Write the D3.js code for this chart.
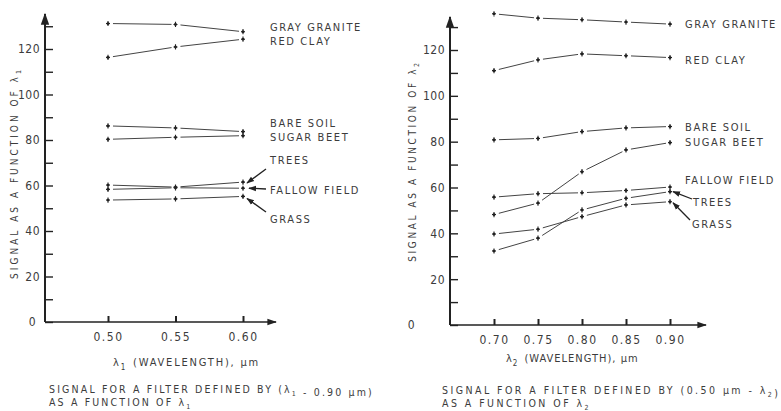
<!doctype html>
<html>
<head>
<meta charset="utf-8">
<title>Signal vs wavelength</title>
<style>
  body { margin: 0; background: #fff; }
  svg text { font-family: "Liberation Sans Narrow", "DejaVu Sans Condensed", "Liberation Sans", sans-serif; fill: #3c3c3c; }
</style>
</head>
<body>
<div id="here"></div>
<script src="https://d3js.org/d3.v7.min.js"></script>
<script>
// filter 1: lambda1 varies, lambda2 = 0.90 um
var wave1 = [0.50, 0.55, 0.60];
var grayGranite1 = [131.2, 130.8, 127.6];
var redClay1     = [116.3, 120.9, 124.3];
var bareSoil1    = [86.2, 85.3, 83.7];
var sugarBeet1   = [80.3, 81.2, 81.9];
var trees1       = [60.2, 59.3, 61.5];
var fallow1      = [58.3, 59.0, 58.8];
var grass1       = [53.6, 54.1, 55.2];

// filter 2: lambda1 = 0.50 um, lambda2 varies
var wave2 = [0.70, 0.75, 0.80, 0.85, 0.90];
var grayGranite2 = [135.8, 133.9, 133.2, 132.2, 131.3];
var redClay2     = [111.0, 115.7, 118.3, 117.5, 116.7];
var bareSoil2    = [80.8, 81.4, 84.4, 86.0, 86.6];
var sugarBeet2   = [48.2, 53.2, 66.9, 76.4, 79.6];
var fallow2      = [55.8, 57.3, 57.7, 58.7, 60.2];
var trees2       = [32.3, 37.9, 50.2, 55.3, 58.2];
var grass2       = [39.7, 41.8, 47.3, 52.4, 53.8];

var yTicks = [0, 10, 20, 30, 40, 50, 60, 70, 80, 90, 100, 110, 120, 130];
var yLabels = [0, 20, 40, 60, 80, 100, 120];
var x1Labels = ["0.50", "0.55", "0.60"];
var x2Labels = ["0.70", "0.75", "0.80", "0.85", "0.90"];

var w = 781, h = 411;
var svg = d3.select("#here").append("svg").attr("width", w).attr("height", h);

svg.append("defs").append("marker")
  .attr("id", "ah").attr("viewBox", "0 0 10 10").attr("refX", 9).attr("refY", 5)
  .attr("markerWidth", 6).attr("markerHeight", 6).attr("orient", "auto-start-reverse")
  .append("path").attr("d", "M0,1.5L10,5L0,8.5z").attr("fill", "#222");

function panel(cfg) {
  var x = d3.scaleLinear().domain([cfg.wave[0], cfg.wave[cfg.wave.length - 1]]).range(cfg.xr);
  var y = d3.scaleLinear().domain([0, 120]).range(cfg.yr);
  var g = svg.append("g");
  var y0 = y(0);

  // y axis
  var ya = d3.axisLeft(y).tickValues(yTicks).tickSizeInner(-8).tickSizeOuter(0).tickPadding(5)
    .tickFormat(function(d) { return yLabels.indexOf(d) >= 0 ? d : ""; });
  var yg = g.append("g").attr("transform", "translate(" + cfg.ax + ",0)").call(ya);
  yg.select(".domain").remove();
  yg.selectAll(".tick line").attr("stroke", "#222").attr("stroke-width", 1.4);
  yg.selectAll(".tick text").attr("font-size", 12).attr("letter-spacing", 0.5)
    .attr("dx", function(d) { return d === 0 ? cfg.zeroDx : 0; });
  g.append("line").attr("x1", cfg.ax).attr("x2", cfg.ax).attr("y1", y0).attr("y2", cfg.ytop)
    .attr("stroke", "#222").attr("stroke-width", 2).attr("marker-end", "url(#ah)");

  // x axis
  var xa = d3.axisBottom(x).tickValues(cfg.wave).tickSizeInner(-6).tickSizeOuter(0).tickPadding(10)
    .tickFormat(function(d, i) { return cfg.xLabels[i]; });
  var xg = g.append("g").attr("transform", "translate(0," + y0 + ")").call(xa);
  xg.select(".domain").remove();
  xg.selectAll(".tick line").attr("stroke", "#222").attr("stroke-width", 2);
  xg.selectAll(".tick text").attr("font-size", 12).attr("letter-spacing", 1.5);
  g.append("line").attr("x1", cfg.ax).attr("x2", cfg.xend).attr("y1", y0).attr("y2", y0)
    .attr("stroke", "#222").attr("stroke-width", 1.6).attr("marker-end", "url(#ah)");

  // series: segments with small gaps at the markers, like the original
  cfg.series.forEach(function(s) {
    var pts = s.map(function(v, i) { return [x(cfg.wave[i]), y(v)]; });
    for (var i = 0; i < pts.length - 1; i++) {
      var a = pts[i], b = pts[i + 1];
      var dx = b[0] - a[0], dy = b[1] - a[1], L = Math.sqrt(dx * dx + dy * dy);
      g.append("line")
        .attr("x1", a[0] + dx / L * 5).attr("y1", a[1] + dy / L * 5)
        .attr("x2", b[0] - dx / L * 4).attr("y2", b[1] - dy / L * 4)
        .attr("stroke", "#444").attr("stroke-width", 1);
    }
    g.selectAll(null).data(pts).enter().append("path")
      .attr("transform", function(p) { return "translate(" + p[0] + "," + p[1] + ")"; })
      .attr("d", "M-2,0H2M0,-2.6V2.6M-1.2,0L0,-1.3L1.2,0L0,1.3z")
      .attr("fill", "#222").attr("stroke", "#222").attr("stroke-width", 1.1);
  });

  // series labels
  cfg.labels.forEach(function(l) {
    g.append("text").attr("x", l[1]).attr("y", l[2]).attr("dy", "0.35em")
      .attr("font-size", 11).attr("letter-spacing", 1.6).text(l[0]);
  });

  // arrows from labels to the last points
  var last = cfg.wave.length - 1;
  cfg.arrows.forEach(function(a) {
    var tx = x(cfg.wave[last]) + a.tip[0], ty = y(cfg.series[a.s][last]) + a.tip[1];
    g.append("line").attr("x1", a.from[0]).attr("y1", a.from[1]).attr("x2", tx).attr("y2", ty)
      .attr("stroke", "#222").attr("stroke-width", 1.3).attr("marker-end", "url(#ah)");
  });

  // y axis title
  var yt = g.append("text").attr("transform", "translate(" + cfg.ytx + "," + cfg.yty + ") rotate(-90)")
    .attr("text-anchor", "middle").attr("dy", "0.35em").attr("font-size", 10).attr("letter-spacing", cfg.ytls);
  yt.append("tspan").text("SIGNAL AS A FUNCTION OF λ");
  yt.append("tspan").attr("font-size", 7).attr("dy", 3).text(cfg.sub);

  // x axis title
  var xt = g.append("text").attr("x", cfg.xtx).attr("y", cfg.xty).attr("dy", "0.35em")
    .attr("font-size", 11).attr("letter-spacing", cfg.xtls);
  xt.append("tspan").text("λ");
  xt.append("tspan").attr("font-size", 8).attr("dy", 4).text(cfg.sub);
  xt.append("tspan").attr("dy", -4).attr("dx", 6).text("(WAVELENGTH), μm");

  // caption
  var c1 = g.append("text").attr("x", cfg.capx).attr("y", cfg.capy).attr("dy", "0.35em")
    .attr("font-size", 10.5).attr("letter-spacing", cfg.capls);
  cfg.cap1.forEach(function(p) {
    if (p === "SUB") c1.append("tspan").attr("font-size", 7).attr("dy", 3).text(cfg.sub);
    else if (p === "UP") c1.append("tspan").attr("dy", -3).text("");
    else c1.append("tspan").text(p);
  });
  var c2 = g.append("text").attr("x", cfg.capx).attr("y", cfg.capy + 13).attr("dy", "0.35em")
    .attr("font-size", 10.5).attr("letter-spacing", cfg.capls);
  c2.append("tspan").text("AS A FUNCTION OF λ");
  c2.append("tspan").attr("font-size", 7).attr("dy", 3).text(cfg.sub);
}

panel({
  wave: wave1, xLabels: x1Labels, xr: [108, 243], yr: [322, 49], ax: 45, ytop: 14, xend: 276,
  zeroDx: -4, sub: "1",
  series: [grayGranite1, redClay1, bareSoil1, sugarBeet1, trees1, fallow1, grass1],
  labels: [["GRAY GRANITE", 270, 27], ["RED CLAY", 270, 41], ["BARE SOIL", 270, 123], ["SUGAR BEET", 270, 137],
           ["TREES", 270, 160], ["FALLOW FIELD", 270, 190], ["GRASS", 270, 219]],
  arrows: [{s: 4, from: [266, 169], tip: [4, 1]}, {s: 5, from: [266, 189], tip: [6, 0]}, {s: 6, from: [266, 212], tip: [4, 2]}],
  ytx: 14, yty: 173, ytls: 3.0, xtx: 113, xty: 362, xtls: 1.8,
  capx: 49, capy: 389, capls: 2.15, cap1: ["SIGNAL FOR A FILTER DEFINED BY (λ", "SUB", "UP", " - 0.90 μm)"]
});

panel({
  wave: wave2, xLabels: x2Labels, xr: [494, 670], yr: [325, 50], ax: 450, ytop: 17, xend: 706,
  zeroDx: -30, sub: "2",
  series: [grayGranite2, redClay2, bareSoil2, sugarBeet2, fallow2, trees2, grass2],
  labels: [["GRAY GRANITE", 685, 24], ["RED CLAY", 685, 60], ["BARE SOIL", 685, 127], ["SUGAR BEET", 685, 142],
           ["FALLOW FIELD", 685, 180], ["TREES", 693, 202], ["GRASS", 692, 224]],
  arrows: [{s: 5, from: [692, 199], tip: [3, 0]}, {s: 6, from: [690, 220], tip: [3, 1]}],
  ytx: 412, yty: 161, ytls: 2.6, xtx: 506, xty: 358, xtls: 1,
  capx: 442, capy: 390, capls: 2.45, cap1: ["SIGNAL FOR A FILTER DEFINED BY (0.50 μm - λ", "SUB", "UP", ")"]
});
</script>
</body>
</html>
